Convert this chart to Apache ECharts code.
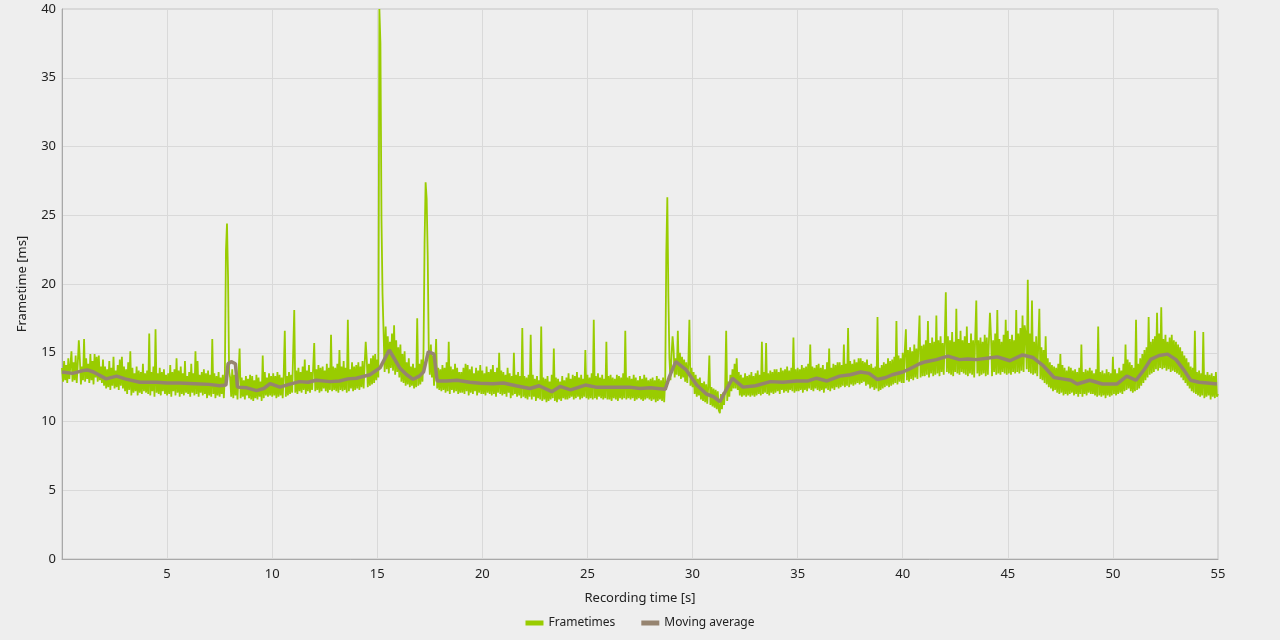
<!DOCTYPE html>
<html>
<head>
<meta charset="utf-8">
<script src="https://cdn.jsdelivr.net/npm/echarts@6/dist/echarts.min.js"></script>
<style>
  html, body { margin: 0; padding: 0; background: #eeeeee; }
  #chart { width: 1280px; height: 640px; }
</style>
</head>
<body>
<div id="chart"></div>
<script>
// frametimes sampled every 0.05 s (one row per second)
var frameStep = 0.05;
var frametimes = [
  13.9,12.9,14.4,13.0,14.1,12.8,14.6,13.1,13.0,15.1,12.9,14.3,13.0,14.8,12.8,14.2,15.9,14.5,12.7,14.0,
  13.0,16.0,12.9,14.6,13.1,14.2,12.8,14.9,13.0,14.4,12.7,14.9,13.2,14.7,12.9,14.8,13.0,14.0,12.8,14.5,
  12.6,14.0,12.4,13.8,12.5,14.4,12.3,13.9,12.6,14.7,12.4,13.7,12.5,14.1,12.3,14.5,12.6,14.7,12.4,14.0,
  12.2,13.8,12.0,14.3,12.3,15.1,11.9,13.9,12.1,13.5,12.2,14.0,11.9,13.7,12.1,13.6,12.0,14.2,12.2,13.5,
  12.1,13.7,12.0,16.4,11.9,13.6,12.2,14.0,11.8,16.7,12.1,13.5,12.0,13.9,11.9,13.6,12.2,13.8,12.0,13.4,
  11.9,13.5,12.0,14.1,11.8,13.6,12.2,13.8,11.9,14.6,12.1,13.7,11.8,14.0,12.0,13.5,11.9,14.4,12.1,13.3,
  12.0,13.6,11.8,14.2,12.1,13.5,11.9,15.1,12.0,14.4,11.8,13.4,12.1,13.6,11.9,13.8,12.0,13.5,11.7,13.7,
  11.9,13.4,11.8,16.0,12.0,13.5,11.7,13.3,11.9,13.6,11.8,13.2,12.0,13.4,11.7,13.5,22.4,24.4,20.5,13.6,
  13.2,11.8,13.8,11.7,13.4,11.9,13.2,11.6,13.5,15.3,11.7,13.2,11.8,13.0,11.6,13.3,11.9,13.1,11.7,13.4,
  11.6,13.3,11.5,13.0,11.7,13.4,11.6,13.2,11.8,12.9,11.5,14.8,11.7,13.6,11.9,13.2,11.8,13.5,11.9,13.3,
  11.8,13.5,11.9,13.3,11.7,13.6,11.8,13.4,11.9,13.2,11.7,13.5,16.6,11.8,13.3,11.9,13.6,12.0,13.4,12.1,
  12.2,18.1,12.1,13.7,12.0,13.9,12.2,13.6,12.1,14.0,12.3,14.5,12.0,13.7,12.2,14.1,12.1,13.6,12.3,13.9,
  15.7,12.2,13.8,12.3,14.1,12.1,13.9,12.2,14.0,12.4,13.7,12.2,14.2,12.1,13.9,12.3,16.3,12.2,14.0,12.3,
  13.9,12.2,14.2,12.1,15.2,12.3,14.0,12.2,14.4,12.3,13.9,12.1,17.4,12.2,13.8,12.4,14.3,12.2,14.0,12.3,
  14.1,12.4,14.3,12.3,14.0,12.5,14.4,12.4,14.2,15.8,14.5,12.5,14.2,12.6,14.6,12.7,14.8,12.8,14.9,13.0,
  14.5,13.2,40.0,37.5,24.7,19.3,16.5,13.6,16.9,13.8,16.2,13.5,15.8,13.9,16.4,13.7,17.0,13.4,15.9,13.6,
  15.4,13.2,15.6,12.9,14.9,12.8,15.1,12.6,14.3,12.7,14.6,12.5,14.0,12.6,14.2,12.4,13.9,12.5,17.5,12.6,
  14.2,12.7,14.5,12.9,15.0,22.9,27.4,26.2,22.0,15.2,13.4,15.6,13.2,14.8,12.6,14.0,16.0,12.4,13.9,12.3,
  13.8,12.2,14.1,12.3,13.9,12.1,14.3,12.2,15.8,12.0,14.0,12.3,13.8,12.1,14.2,12.2,13.9,12.0,13.6,12.1,
  13.6,12.1,13.9,12.0,14.2,12.2,14.1,11.9,13.8,12.1,14.0,12.0,13.5,12.2,13.9,11.9,13.7,12.1,14.1,12.0,
  13.7,12.0,13.5,11.9,14.0,12.1,13.6,12.0,13.8,11.9,14.1,12.0,13.6,11.8,13.9,12.1,15.0,12.0,13.7,11.9,
  13.6,12.0,13.4,11.8,13.9,12.1,13.5,11.7,13.3,11.9,15.0,12.0,13.4,11.8,13.6,11.9,13.3,11.7,16.8,11.8,
  13.3,11.7,13.2,11.6,13.4,11.8,16.3,11.6,13.4,11.8,13.1,11.5,13.3,11.7,13.0,11.6,16.9,11.5,13.2,11.6,
  13.1,11.4,13.3,11.5,12.9,11.6,13.4,11.7,15.3,11.5,13.2,11.4,13.1,11.6,12.9,11.5,13.3,11.7,13.0,11.6,
  13.2,11.6,13.5,11.7,13.1,11.8,13.4,11.6,13.3,11.7,13.6,11.8,13.2,11.6,13.4,11.7,13.1,11.8,15.2,11.7,
  13.4,11.6,13.2,11.7,13.5,11.6,17.4,11.7,13.3,11.6,13.5,11.8,13.2,11.7,13.4,11.6,13.1,11.7,15.8,11.6,
  13.3,11.6,13.4,11.5,13.2,11.7,13.1,11.6,13.4,11.5,13.3,11.7,13.2,11.6,13.5,11.7,16.6,11.6,13.2,11.7,
  13.3,11.6,13.1,11.7,13.4,11.5,13.2,11.6,13.0,11.7,13.3,11.6,13.1,11.5,13.4,11.6,13.2,11.7,13.0,11.6,
  13.1,11.5,13.2,11.6,13.0,11.4,13.3,11.5,13.1,11.6,13.0,11.5,13.2,11.4,13.0,22.1,26.3,19.1,14.6,13.0,
  14.8,16.2,15.2,13.2,14.6,13.4,16.6,13.3,15.0,13.1,14.7,13.2,14.5,12.9,14.3,12.8,14.2,17.4,12.6,13.9,
  12.5,13.6,12.0,13.4,11.8,13.1,11.9,13.2,11.6,12.8,11.5,12.9,11.4,12.7,11.3,12.6,14.8,11.2,12.5,11.1,
  12.4,11.0,12.3,10.9,12.2,10.8,10.6,12.0,10.9,12.1,11.2,12.4,16.6,11.5,12.9,11.8,13.4,12.2,13.8,12.4,
  14.2,12.4,14.6,12.3,13.6,11.9,13.4,11.8,13.2,11.9,13.5,11.8,13.3,11.9,13.4,11.8,13.6,11.9,13.3,11.8,
  13.5,11.9,13.7,12.0,13.4,11.9,15.8,12.0,13.6,12.1,15.7,12.0,13.5,11.9,13.7,12.1,13.6,12.0,13.8,12.1,
  13.8,12.2,13.6,12.0,13.9,12.3,13.7,12.1,13.8,12.2,14.0,12.1,13.7,12.3,13.9,12.2,16.1,12.1,13.8,12.2,
  13.9,12.2,13.8,12.3,14.1,12.1,13.9,12.3,14.0,12.2,14.2,12.4,15.6,12.3,14.0,12.2,13.9,12.4,14.1,12.3,
  14.2,12.2,13.9,12.3,14.1,12.1,13.8,12.4,14.3,12.3,15.3,12.2,13.9,12.4,14.2,12.3,14.1,12.5,14.3,12.4,
  14.3,12.5,14.1,12.6,15.6,12.5,14.2,12.6,16.8,12.5,14.4,12.7,14.2,12.6,14.5,12.7,14.3,12.8,14.6,12.7,
  14.6,12.8,14.4,12.9,14.3,12.6,14.5,12.7,14.1,12.4,14.2,12.5,13.9,12.3,14.0,12.4,17.6,12.2,13.9,12.3,
  14.1,12.4,14.3,12.5,14.2,12.6,14.6,12.5,14.4,12.6,14.5,12.7,14.7,12.8,17.3,12.7,14.8,12.9,14.6,12.8,
  15.0,12.8,15.2,16.7,13.0,15.2,12.9,15.4,13.1,15.1,13.0,15.6,13.2,15.3,13.1,15.7,17.7,13.2,15.5,13.3,
  15.6,13.3,15.9,13.4,17.3,13.2,15.7,13.5,16.1,13.3,15.8,13.4,17.7,13.5,15.9,13.3,16.2,13.6,15.7,13.4,
  16.0,19.4,13.6,16.2,13.5,15.9,13.4,16.5,13.3,15.8,13.6,18.2,13.5,16.0,13.4,16.6,13.6,15.9,13.5,16.2,
  13.4,16.9,13.3,15.7,13.5,16.4,13.4,15.9,13.2,16.2,18.8,13.5,15.9,13.3,16.1,13.4,15.8,13.5,16.3,13.3,
  16.1,13.4,15.8,17.9,16.2,13.3,15.9,13.6,16.4,13.4,18.1,13.5,16.0,13.4,15.8,13.6,16.3,13.5,17.4,13.4,
  16.6,13.5,16.0,13.4,16.3,13.6,15.9,13.5,18.1,13.6,16.4,13.5,16.8,13.7,17.7,13.6,17.0,16.4,13.8,20.3,
  13.6,16.4,13.5,18.8,13.4,15.8,13.5,16.2,13.3,15.6,18.2,13.1,15.4,13.0,15.2,12.8,16.2,12.7,14.6,12.5,
  14.3,12.4,14.1,12.2,14.0,12.3,13.9,12.1,14.2,12.0,14.9,12.1,14.1,11.9,13.9,12.0,13.7,11.9,14.0,12.0,
  13.9,12.1,13.7,11.9,13.8,12.0,13.6,11.8,13.9,12.0,15.6,11.8,13.6,12.0,13.8,11.9,13.7,12.1,13.9,12.0,
  13.7,12.0,13.5,11.9,13.8,11.8,16.9,11.9,13.6,11.8,13.7,11.9,13.5,11.7,13.8,11.9,13.6,11.8,13.5,11.9,
  14.7,12.0,13.8,11.9,13.5,12.0,13.9,12.1,13.7,12.0,14.2,12.2,15.6,12.3,14.5,12.4,14.3,12.2,14.1,12.1,
  13.9,12.2,17.4,12.3,14.2,12.4,14.6,12.6,14.9,12.8,15.2,13.0,15.4,13.2,17.6,13.4,15.8,13.5,16.0,13.6,
  16.2,13.8,17.9,13.7,16.4,13.9,18.3,13.8,16.0,13.9,16.3,13.7,15.8,13.8,16.1,13.6,16.3,13.7,15.9,13.6,
  15.8,13.5,15.6,13.4,15.4,13.2,15.1,13.0,14.8,12.8,14.6,12.6,14.3,12.4,14.0,12.2,13.9,12.1,16.6,12.0,
  13.6,11.9,13.7,11.8,13.5,11.9,16.5,11.7,13.4,11.8,13.6,11.9,13.4,11.6,13.5,11.8,13.3,11.7,13.6,11.8,
  12.0
];

// moving average
var maTime = [
  0.0, 0.5, 1.0, 1.2, 1.5, 2.1, 2.6, 3.0, 3.7, 4.5, 5.0, 5.6, 6.3, 7.0, 7.5, 7.8,
  7.9, 8.05, 8.25, 8.35, 8.8, 9.26, 9.6, 9.9, 10.37, 10.8, 11.3, 11.7, 12.1, 12.75,
  13.2, 13.6, 14.0, 14.65, 15.13, 15.57, 15.8, 16.08, 16.4, 16.7, 17.0, 17.2, 17.43,
  17.7, 17.85, 18.3, 18.8, 19.4, 19.9, 20.5, 21.0, 21.6, 22.26, 22.7, 23.3, 23.7,
  24.2, 24.9, 25.4, 25.9, 26.5, 27.0, 27.5, 28.0, 28.7, 28.9, 29.2, 29.7, 30.2,
  30.66, 31.0, 31.3, 31.6, 31.9, 32.4, 33.0, 33.7, 34.3, 34.95, 35.5, 35.9, 36.4,
  37.0, 37.5, 38.0, 38.4, 38.8, 39.2, 39.5, 40.0, 40.3, 40.8, 41.1, 41.6, 42.15,
  42.7, 43.1, 43.5, 44.0, 44.5, 45.1, 45.7, 46.2, 46.7, 47.2, 47.6, 48.0, 48.3,
  48.9, 49.5, 50.2, 50.66, 51.1, 51.5, 51.8, 52.2, 52.6, 53.0, 53.4, 53.7, 54.1,
  54.5, 54.95
];
var maValue = [
  13.6, 13.5, 13.7, 13.75, 13.6, 13.1, 13.3, 13.1, 12.85, 12.85, 12.8, 12.8, 12.75, 12.7, 12.6, 12.65,
  14.2, 14.35, 14.2, 12.5, 12.45, 12.25, 12.4, 12.75, 12.5, 12.7, 12.9, 12.85, 13.0, 12.9,
  12.95, 13.1, 13.15, 13.4, 13.9, 15.2, 14.6, 13.87, 13.4, 13.07, 13.3, 13.6, 15.08,
  14.9, 12.95, 12.95, 13.0, 12.85, 12.78, 12.75, 12.8, 12.6, 12.4, 12.6, 12.17, 12.55,
  12.3, 12.65, 12.5, 12.5, 12.5, 12.5, 12.4, 12.45, 12.34, 13.26, 14.35, 13.75, 12.65,
  12.0, 11.8, 11.44, 12.3, 13.14, 12.5, 12.6, 12.9, 12.85, 12.95, 12.95, 13.15, 12.95,
  13.3, 13.4, 13.6, 13.5, 13.05, 13.2, 13.4, 13.6, 13.8, 14.2, 14.35, 14.5, 14.76,
  14.5, 14.55, 14.5, 14.6, 14.7, 14.42, 14.84, 14.65, 14.04, 13.2, 13.1, 13.0, 12.73,
  13.0, 12.73, 12.73, 13.3, 13.0, 13.8, 14.52, 14.8, 14.9, 14.5, 13.7, 13.0, 12.85,
  12.8, 12.73
];

var xTicks = { min: 0, max: 55, step: 5 };
var yTicks = { min: 0, max: 40, step: 5 };

var frameData = frametimes.map(function (v, i) {
  return [+(i * frameStep).toFixed(2), v];
});
var maData = maTime.map(function (t, i) {
  return [t, maValue[i]];
});

var myChart = echarts.init(document.getElementById('chart'));
var font = '"Noto Sans", "Segoe UI", sans-serif';
var option = {
  backgroundColor: '#eeeeee',
  animation: false,
  textStyle: { fontFamily: font },
  grid: {
    left: 62, right: 62, top: 9, bottom: 81,
    show: true, borderColor: '#c4c4c4', borderWidth: 1
  },
  legend: {
    bottom: 6,
    left: 'center',
    icon: 'rect',
    itemWidth: 18,
    itemHeight: 5,
    itemGap: 26,
    textStyle: { fontFamily: font, fontSize: 12, color: '#222' },
    data: ['Frametimes', 'Moving average']
  },
  xAxis: {
    type: 'value',
    min: xTicks.min, max: xTicks.max, interval: xTicks.step,
    name: 'Recording time [s]',
    nameLocation: 'middle',
    nameGap: 33,
    nameTextStyle: { fontFamily: font, fontSize: 13, color: '#222' },
    axisLine: { lineStyle: { color: '#a8a8a8' } },
    axisTick: { show: false },
    axisLabel: { showMinLabel: false, fontFamily: font, fontSize: 13, color: '#222', margin: 9 },
    splitLine: { lineStyle: { color: '#d9d9d9' } }
  },
  yAxis: {
    type: 'value',
    min: yTicks.min, max: yTicks.max, interval: yTicks.step,
    name: 'Frametime [ms]',
    nameLocation: 'middle',
    nameGap: 33,
    nameRotate: 90,
    nameTextStyle: { fontFamily: font, fontSize: 13, color: '#222' },
    axisLine: { show: true, lineStyle: { color: '#a8a8a8' } },
    axisTick: { show: false },
    axisLabel: { fontFamily: font, fontSize: 13, color: '#222', margin: 6 },
    splitLine: { lineStyle: { color: '#d9d9d9' } }
  },
  series: [
    {
      name: 'Frametimes',
      type: 'line',
      data: frameData,
      showSymbol: false,
      symbol: 'none',
      sampling: null,
      color: '#99cc00',
      lineStyle: { color: '#99cc00', width: 1.8 },
      z: 2
    },
    {
      name: 'Moving average',
      type: 'line',
      data: maData,
      showSymbol: false,
      symbol: 'none',
      color: '#968470',
      lineStyle: { color: '#968470', width: 3.5 },
      z: 3
    }
  ]
};
myChart.setOption(option);
</script>
</body>
</html>
